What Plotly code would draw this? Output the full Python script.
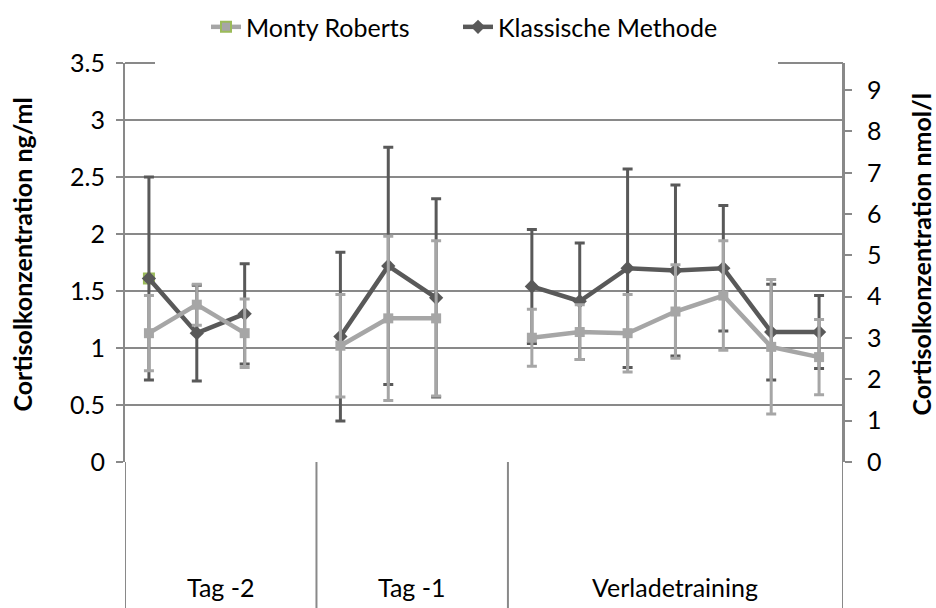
import plotly.graph_objects as go

# Cortisol concentration (ng/ml), mean and SD per sampling point
groups = ["Tag -2", "Tag -1", "Verladetraining"]
group_sizes = [3, 3, 7]

monty_mean = [1.13, 1.38, 1.13, 1.02, 1.26, 1.26, 1.09, 1.14, 1.13, 1.32, 1.46, 1.01, 0.92]
monty_sd = [0.33, 0.18, 0.30, 0.45, 0.72, 0.68, 0.25, 0.24, 0.34, 0.41, 0.48, 0.59, 0.33]
klass_mean = [1.61, 1.13, 1.30, 1.10, 1.72, 1.44, 1.54, 1.41, 1.70, 1.68, 1.70, 1.14, 1.14]
klass_sd = [0.89, 0.42, 0.44, 0.74, 1.04, 0.87, 0.50, 0.51, 0.87, 0.75, 0.55, 0.42, 0.32]

left_ticks = [0, 0.5, 1, 1.5, 2, 2.5, 3, 3.5]
right_ticks = list(range(10))
NG_TO_NMOL = 2.759  # 1 ng/ml cortisol = 2.759 nmol/l

FONT = "Lato"
FS = 25
LIGHT = "#A6A6A6"
DARK = "#595959"
GRID = "#898989"
GREEN = "#9BBB59"

# Category slots: each group is followed by one empty slot (breaks the line)
xs, ym, ys, yk, yks = [], [], [], [], []
starts = []
i = 0
slot = 0
for g, n in enumerate(group_sizes):
    starts.append(slot)
    for _ in range(n):
        xs.append(slot)
        ym.append(monty_mean[i]); ys.append(monty_sd[i])
        yk.append(klass_mean[i]); yks.append(klass_sd[i])
        i += 1
        slot += 1
    if g < len(group_sizes) - 1:
        xs.append(slot)
        ym.append(None); ys.append(None); yk.append(None); yks.append(None)
        slot += 1
n_slots = slot
bounds = [s - 0.5 for s in starts] + [n_slots - 0.5]

fig = go.Figure()

# legend entry for Monty Roberts (single marker at the first sample)
fig.add_trace(go.Scatter(
    x=[xs[0]], y=[klass_mean[0]], name="Monty Roberts", mode="lines+markers",
    line=dict(color=LIGHT, width=4.5),
    marker=dict(symbol="square", size=10, color=LIGHT, line=dict(color=GREEN, width=2)),
    hoverinfo="skip", legend="legend"))

fig.add_trace(go.Scatter(
    x=xs, y=yk, name="Klassische Methode", mode="lines+markers",
    line=dict(color=DARK, width=4.5),
    marker=dict(symbol="diamond", size=11, color=DARK),
    error_y=dict(type="data", array=yks, color=DARK, thickness=3, width=5),
    connectgaps=False, legend="legend2"))

fig.add_trace(go.Scatter(
    x=xs, y=ym, name="Monty Roberts", mode="lines+markers", showlegend=False,
    line=dict(color=LIGHT, width=4.5),
    marker=dict(symbol="square", size=10, color=LIGHT),
    error_y=dict(type="data", array=ys, color=LIGHT, thickness=3, width=5),
    connectgaps=False))

# secondary axis carrier (nmol/l)
fig.add_trace(go.Scatter(x=[xs[0]], y=[klass_mean[0] * NG_TO_NMOL], yaxis="y2",
                         mode="markers", marker=dict(opacity=0), showlegend=False,
                         hoverinfo="skip"))

legend_common = dict(orientation="h", y=1.09, yanchor="middle",
                     font=dict(family=FONT, size=FS), bgcolor="rgba(0,0,0,0)")

ymax = left_ticks[-1]
fig.update_layout(
    width=936, height=608,
    margin=dict(l=125, r=93, t=63, b=146, autoexpand=False),
    paper_bgcolor="white", plot_bgcolor="white",
    font=dict(family=FONT, size=FS, color="#000000"),
    showlegend=True,
    legend=dict(x=(206 - 125) / 718, xanchor="left", **legend_common),
    legend2=dict(x=(458 - 125) / 718, xanchor="left", **legend_common),
    xaxis=dict(range=[-0.5, n_slots - 0.5], showticklabels=False, ticks="",
               showgrid=False, zeroline=False, showline=False, fixedrange=True),
    yaxis=dict(range=[0, ymax], tickvals=left_ticks,
               ticktext=[f"{v:g}" for v in left_ticks],
               showgrid=True, gridcolor=GRID, gridwidth=1.8,
               zeroline=False, showline=True, linecolor=GRID, linewidth=2,
               ticks="outside", ticklen=7, tickcolor=GRID, tickwidth=2,
               ticklabelstandoff=6, tickfont=dict(size=FS), fixedrange=True),
    yaxis2=dict(range=[0, ymax * NG_TO_NMOL], tickvals=right_ticks, overlaying="y",
                side="right", showgrid=False, zeroline=False, showline=True,
                linecolor=GRID, linewidth=2, ticks="outside", ticklen=7,
                tickcolor=GRID, tickwidth=2, ticklabelstandoff=10,
                tickfont=dict(size=FS), fixedrange=True),
)

bottom = -146 / 399
shapes = []
# category axis: dividers and outer edges down to the bottom
for b in bounds:
    shapes.append(dict(type="line", xref="x", yref="paper", x0=b, x1=b, y0=bottom, y1=0,
                       line=dict(color=GRID, width=2), layer="above"))
# right edge up to the top
shapes.append(dict(type="line", xref="x", yref="paper", x0=bounds[-1], x1=bounds[-1],
                   y0=0, y1=1, line=dict(color=GRID, width=2), layer="above"))
# top border, interrupted by the legend area
shapes.append(dict(type="line", xref="paper", yref="paper", x0=0, x1=1, y0=1, y1=1,
                   line=dict(color=GRID, width=2), layer="above"))
shapes.append(dict(type="rect", xref="paper", yref="paper",
                   x0=(155 - 125) / 718, x1=(778 - 125) / 718, y0=0.99, y1=1.01,
                   fillcolor="white", line=dict(width=0), layer="above"))
fig.update_layout(shapes=shapes)

annotations = []
for g, name in enumerate(groups):
    cx = (bounds[g] + bounds[g + 1]) / 2
    annotations.append(dict(text=name, x=cx, xref="x", y=bottom + 0.01, yref="paper",
                            yanchor="bottom", showarrow=False, font=dict(size=FS)))
annotations.append(dict(text="<b>Cortisolkonzentration ng/ml</b>", textangle=-90,
                        x=(22 - 125) / 718, y=0.52, xref="paper", yref="paper",
                        xanchor="center", yanchor="middle",
                        showarrow=False, font=dict(size=FS)))
annotations.append(dict(text="<b>Cortisolkonzentration nmol/l</b>", textangle=-90,
                        x=(921 - 125) / 718, y=0.52, xref="paper", yref="paper",
                        xanchor="center", yanchor="middle",
                        showarrow=False, font=dict(size=FS)))
fig.update_layout(annotations=annotations)

fig.write_html("out.html")
